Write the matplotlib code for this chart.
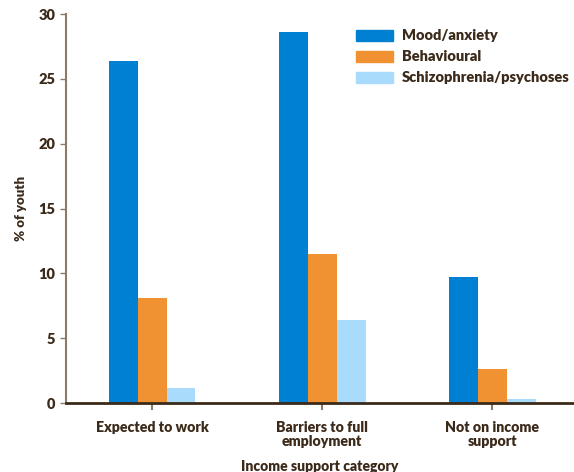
import numpy as np
import matplotlib.pyplot as plt
from matplotlib.patches import Patch

categories = ['Expected to work', 'Barriers to full\nemployment', 'Not on income\nsupport']
series = ['Mood/anxiety', 'Behavioural', 'Schizophrenia/psychoses']
mood = [26.4, 28.6, 9.7]
behav = [8.1, 11.5, 2.6]
schizo = [1.2, 6.4, 0.3]
yticks = [0, 5, 10, 15, 20, 25, 30]

colors = ['#0080D2', '#F09232', '#A8DBFC']
txt = '#3B2A1A'

plt.rcParams['font.family'] = ['Lato', 'DejaVu Sans']
plt.rcParams['font.weight'] = 'bold'

fig = plt.figure(figsize=(5.74, 4.72), dpi=100)
ax = fig.add_axes([0.115, 0.146, 0.885, 0.824])

x = np.arange(len(categories))
w = 0.17
for i, (vals, c) in enumerate(zip([mood, behav, schizo], colors)):
    ax.bar(x + (i - 1) * w, vals, width=w, color=c, linewidth=0)

ax.set_xlim(-0.506, 2.48)
ax.set_ylim(0, 30)
ax.set_yticks(yticks)
ax.set_xticks(x)
ax.set_xticklabels(categories, fontsize=10.2, color=txt, fontweight='heavy', linespacing=1.05)
ax.tick_params(axis='y', labelsize=10.5, labelcolor=txt, color='#8C7B6B', length=4, width=1)
for t in ax.get_yticklabels():
    t.set_fontweight('heavy')
ax.tick_params(axis='x', color='#8C7B6B', length=5, width=1.5, pad=8)

for s in ['top', 'right']:
    ax.spines[s].set_visible(False)
ax.spines['left'].set_color('#8C7B6B')
ax.spines['left'].set_linewidth(1.5)
ax.spines['bottom'].set_color('#3B2A1A')
ax.spines['bottom'].set_linewidth(2)

ax.set_ylabel('% of youth', fontsize=9.5, color=txt, fontweight='heavy', labelpad=8)
ax.set_xlabel('Income support category', fontsize=10, color=txt, fontweight='heavy', labelpad=9)

handles = [Patch(color=c, label=s) for c, s in zip(colors, series)]
leg = ax.legend(handles=handles, loc='upper left', bbox_to_anchor=(0.546, 0.995),
                frameon=False, fontsize=10.5, handlelength=2.5, handleheight=0.8,
                labelspacing=0.55, handletextpad=0.6)
for t in leg.get_texts():
    t.set_color(txt)
    t.set_fontweight('heavy')

fig.savefig('out.png', dpi=100)
